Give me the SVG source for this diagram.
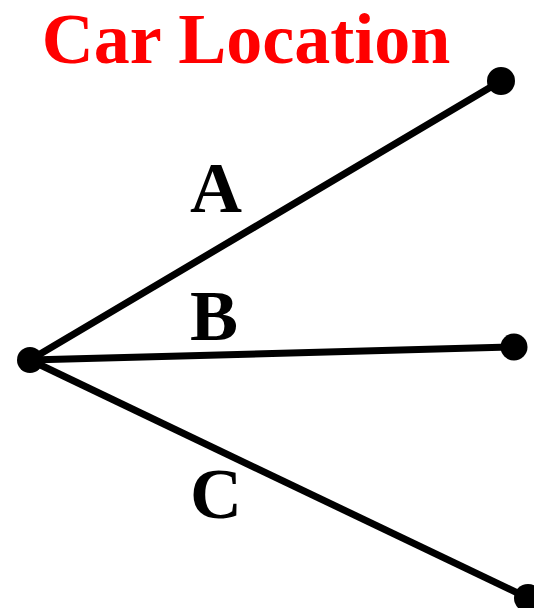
<svg xmlns="http://www.w3.org/2000/svg" width="534" height="608" viewBox="0 0 534 608">
<style>
.t{font-family:"Liberation Serif","Times New Roman",serif;font-weight:bold;font-size:72px}
.lbl{font-family:"Liberation Serif","Times New Roman",serif;font-weight:bold;font-size:72px;fill:#000}
.ln{stroke:#000;stroke-width:7;fill:none}
</style>
<rect width="534" height="608" fill="#fff"/>
<text class="t" x="246" y="63" text-anchor="middle" fill="#ff0000">Car Location</text>
<g id="connectors">
<line class="ln" x1="30" y1="360" x2="501" y2="81"/>
<line class="ln" x1="30" y1="360" x2="514" y2="347"/>
<line class="ln" x1="30" y1="360" x2="528" y2="598"/>
</g>
<g id="origin"><circle cx="30" cy="360" r="13"/></g>
<g id="endA"><circle cx="501" cy="81" r="14"/></g>
<g id="endB"><circle cx="514" cy="347" r="13.5"/></g>
<g id="endC"><circle cx="528" cy="598" r="14"/></g>
<text class="lbl" x="216" y="212" text-anchor="middle">A</text>
<text class="lbl" x="214" y="340" text-anchor="middle">B</text>
<text class="lbl" x="216" y="518" text-anchor="middle">C</text>
</svg>
